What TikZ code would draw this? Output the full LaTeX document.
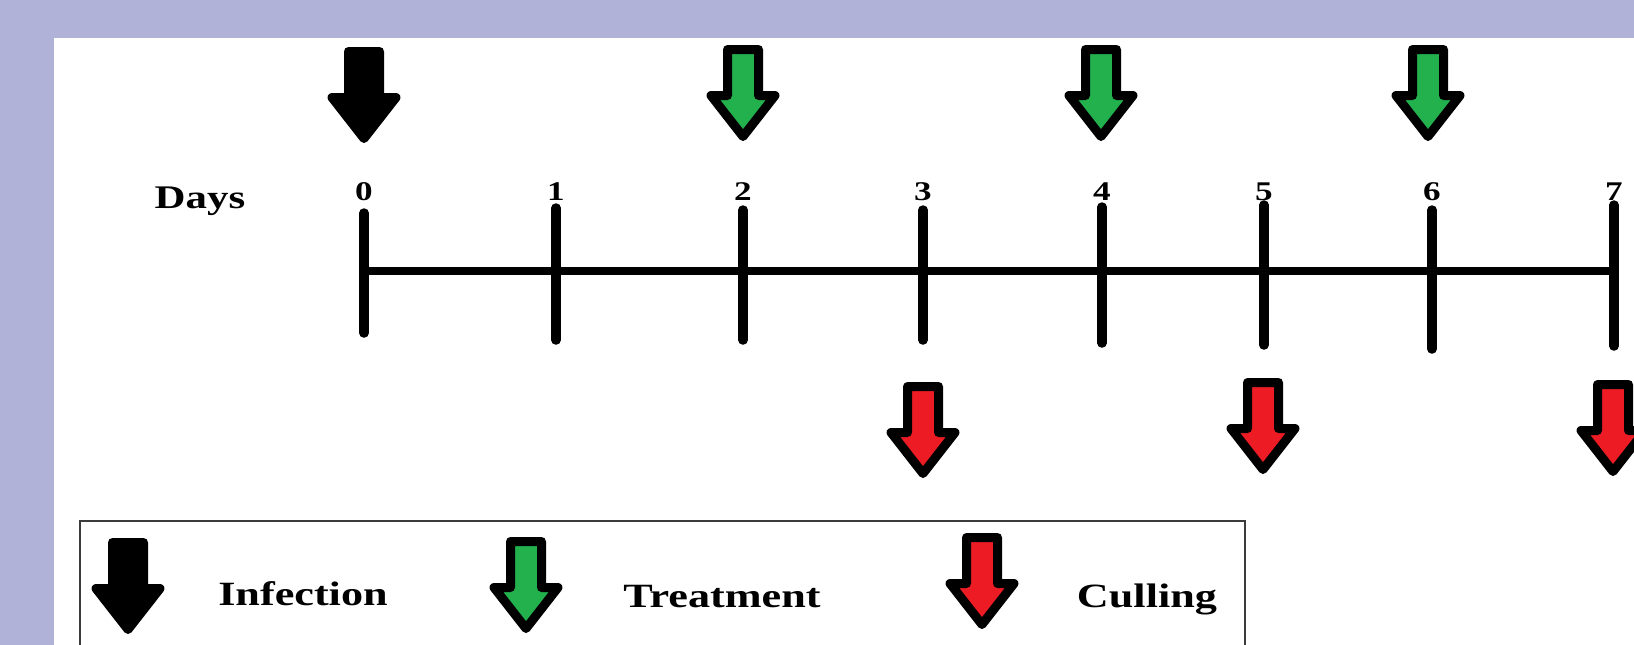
\documentclass[tikz,border=0pt]{standalone}
\usepackage{fontspec}
\newfontfamily\lblfont[FakeStretch=1.3]{Liberation Serif}
\definecolor{bgpurple}{RGB}{176,178,216}
\definecolor{arrgreen}{RGB}{34,177,76}
\definecolor{arrred}{RGB}{237,28,36}
\definecolor{boxgray}{RGB}{60,60,60}
\tikzset{
  arrowline/.style={draw=black, line width=9pt, line join=round},
  axisline/.style={line width=8pt, black},
  tickline/.style={line width=9.5pt, black, line cap=round},
  daylabel/.style={anchor=base, inner sep=0pt, font=\lblfont\bfseries\fontsize{27}{30}\selectfont},
  legendtext/.style={anchor=base, inner sep=0pt, font=\lblfont\bfseries\fontsize{34}{40}\selectfont},
}
% #1 name, #2 fill colour, #3 x, #4 y of top (geometry)
\newcommand\blockarrow[4]{%
  \filldraw[arrowline, fill=#2, shift={(#3,#4)}]
    (-15.5,0) -- (15.5,0) -- (15.5,46) -- (32,46) -- (0,87) coordinate (#1)
    -- (-32,46) -- (-15.5,46) -- cycle;}
\begin{document}
\begin{tikzpicture}[x=1pt, y=-1pt]
\clip (0,0) rectangle (1634,645);
\fill[bgpurple] (0,0) rectangle (1634,645);
\fill[white] (54,38) rectangle (1640,650);

% days label
\node[legendtext, font=\lblfont\bfseries\fontsize{33}{38}\selectfont] (days) at (200,208) {Days};

% ticks
\foreach \n/\x/\t/\b in {0/364/213/333, 1/556/208/340, 2/743/210/340, 3/923/210/340,
                          4/1102/207/343, 5/1264/205/345, 6/1432/210/349, 7/1614/205/346} {
  \coordinate (t\n top) at (\x,\t);
  \coordinate (t\n bot) at (\x,\b);
  \coordinate (t\n) at (\x,271);
  \node[daylabel] (l\n) at (\x,200) {\n};
}
\draw[axisline] (t0) -- (t7);
\foreach \n in {0,...,7} { \draw[tickline] (t\n top) -- (t\n bot); }

% timeline arrows
\blockarrow{inf0}{black}{364}{51.5}
\blockarrow{tr2}{arrgreen}{743}{49.5}
\blockarrow{tr4}{arrgreen}{1101}{49.5}
\blockarrow{tr6}{arrgreen}{1428}{49.5}
\blockarrow{cu3}{arrred}{923}{386.5}
\blockarrow{cu5}{arrred}{1263}{382.5}
\blockarrow{cu7}{arrred}{1613}{384.5}

% legend
\draw[boxgray, line width=2.5pt] (80,521) rectangle (1245,670);
\blockarrow{leginf}{black}{128}{542.5}
\blockarrow{legtr}{arrgreen}{526}{541.5}
\blockarrow{legcu}{arrred}{982}{537.5}
\node[legendtext] (tinf) at (303,605) {Infection};
\node[legendtext] (ttr) at (722,607) {Treatment};
\node[legendtext] (tcu) at (1147,607) {Culling};
\end{tikzpicture}
\end{document}
